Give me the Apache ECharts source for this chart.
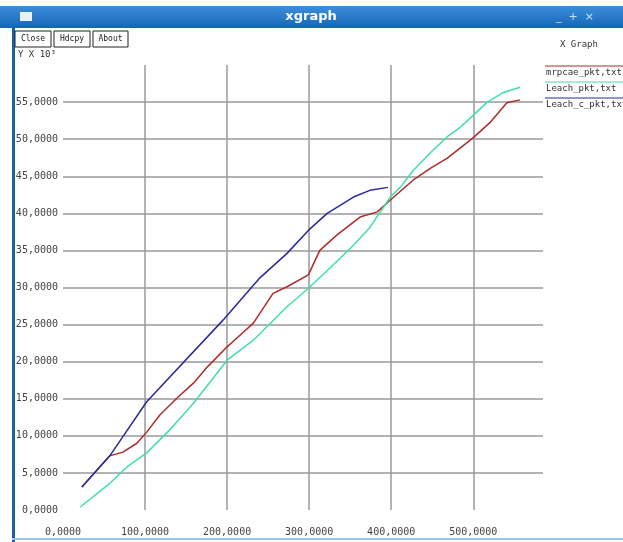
<!DOCTYPE html>
<html><head><meta charset="utf-8">
<script src="https://cdn.jsdelivr.net/npm/echarts@6/dist/echarts.min.js"></script>
<style>html,body{margin:0;padding:0;background:#fff;}#c{width:623px;height:542px;}</style>
</head><body><div id="c"></div>
<script>
// Data (y in units of 10^3)
var seriesNames = ['mrpcae_pkt.txt', 'Leach_pkt.txt', 'Leach_c_pkt.txt'];
var redX  = [23, 57, 73, 90, 102, 118, 139, 159, 176, 200, 212, 232, 256, 273, 299, 313, 334, 362, 383, 399, 427, 448, 468, 499, 521, 541, 557];
var redY  = [3.1, 7.3, 7.8, 9.0, 10.5, 12.8, 15.1, 17.1, 19.3, 22.0, 23.2, 25.2, 29.2, 30.1, 31.7, 35.0, 37.1, 39.5, 40.2, 41.8, 44.5, 46.1, 47.4, 50.1, 52.3, 54.9, 55.3];
var greenX = [21, 57, 78, 102, 130, 159, 200, 232, 273, 299, 326, 354, 374, 399, 411, 427, 448, 468, 484, 496, 517, 537, 557];
var greenY = [0.4, 3.6, 5.8, 7.7, 10.8, 14.4, 20.2, 22.9, 27.4, 29.9, 32.7, 35.7, 38.1, 42.2, 43.5, 45.8, 48.2, 50.3, 51.6, 52.8, 55.0, 56.3, 57.0];
var blueX = [23, 57, 102, 195, 240, 273, 299, 322, 354, 374, 396];
var blueY = [3.1, 7.3, 14.6, 25.6, 31.3, 34.6, 37.7, 40.0, 42.2, 43.1, 43.5];
var xTickLabels = ['0,0000', '100,0000', '200,0000', '300,0000', '400,0000', '500,0000'];
var yTickLabels = ['0,0000', '5,0000', '10,0000', '15,0000', '20,0000', '25,0000', '30,0000', '35,0000', '40,0000', '45,0000', '50,0000', '55,0000'];
var colors = ['#b02a2a', '#3fe0a8', '#2a2a96'];

function pairs(xs, ys) { return xs.map(function (x, i) { return [x, ys[i]]; }); }

var chart = echarts.init(document.getElementById('c'), null, {renderer: 'canvas'});
var mono = 'DejaVu Sans Mono';
var legendGraphics = [];
seriesNames.forEach(function (n, i) {
  legendGraphics.push({type: 'line', shape: {x1: 545, y1: 66 + i * 16, x2: 623, y2: 66 + i * 16}, style: {stroke: colors[i], lineWidth: 1.2}});
  legendGraphics.push({type: 'text', x: 546, y: 68 + i * 16, style: {text: n.replace('.', ','), fill: '#333', font: '9px ' + mono}});
});
function button(x, w, label) {
  return [
    {type: 'rect', shape: {x: x, y: 31, width: w, height: 16}, style: {fill: '#fff', stroke: '#222', lineWidth: 1}},
    {type: 'text', x: x + w / 2, y: 39, style: {text: label, fill: '#222', font: '8px ' + mono, align: 'center', verticalAlign: 'middle'}}
  ];
}
chart.setOption({
  animation: false,
  backgroundColor: '#fff',
  grid: {left: 63, right: 80, top: 65, bottom: 32, containLabel: false},
  xAxis: {
    type: 'value', min: 0, max: 585, interval: 100,
    axisLine: {show: false}, axisTick: {show: false},
    splitLine: {show: true, showMinLine: false, showMaxLine: false, lineStyle: {color: '#9a9a9a', width: 1.5}},
    axisLabel: {margin: 17, color: '#444', fontFamily: mono, fontSize: 10,
      formatter: function (v) { var k = Math.round(v / 100); return (v % 100 === 0 && k < xTickLabels.length) ? xTickLabels[k] : ''; }}
  },
  yAxis: {
    type: 'value', min: 0, max: 60, interval: 5,
    axisLine: {show: false}, axisTick: {show: false},
    splitLine: {show: true, showMinLine: false, showMaxLine: false, lineStyle: {color: '#9a9a9a', width: 1.5}},
    axisLabel: {margin: 5, color: '#444', fontFamily: mono, fontSize: 10,
      formatter: function (v) { var k = Math.round(v / 5); return k < yTickLabels.length ? yTickLabels[k] : ''; }}
  },
  series: [
    {name: seriesNames[0], type: 'line', data: pairs(redX, redY), showSymbol: false, lineStyle: {color: colors[0], width: 1.5}, itemStyle: {color: colors[0]}},
    {name: seriesNames[1], type: 'line', data: pairs(greenX, greenY), showSymbol: false, lineStyle: {color: colors[1], width: 1.5}, itemStyle: {color: colors[1]}},
    {name: seriesNames[2], type: 'line', data: pairs(blueX, blueY), showSymbol: false, lineStyle: {color: colors[2], width: 1.5}, itemStyle: {color: colors[2]}}
  ],
  graphic: [
    {type: 'rect', shape: {x: 0, y: 6, width: 623, height: 22},
      style: {fill: new echarts.graphic.LinearGradient(0, 0, 0, 1, [{offset: 0, color: '#3d8fdc'}, {offset: 1, color: '#1565b5'}])}},
    {type: 'rect', shape: {x: 20, y: 12, width: 12, height: 9}, style: {fill: '#e8f0fa'}},
    {type: 'text', x: 311, y: 17, style: {text: 'xgraph', fill: '#fff', font: 'bold 13px "DejaVu Sans"', align: 'center', verticalAlign: 'middle'}},
    {type: 'text', x: 575, y: 17, style: {text: '_  +  ×', fill: '#cfe3f7', font: '11px "DejaVu Sans"', align: 'center', verticalAlign: 'middle'}},
    {type: 'rect', shape: {x: 12, y: 28, width: 3, height: 514}, style: {fill: '#1d5f9c'}},
    {type: 'rect', shape: {x: 12, y: 538, width: 611, height: 2}, style: {fill: '#9cc6ea'}}
  ].concat(button(15, 36, 'Close'), button(54, 36, 'Hdcpy'), button(93, 35, 'About'), [
    {type: 'text', x: 18, y: 50, style: {text: 'Y X 10³', fill: '#333', font: '9px ' + mono}},
    {type: 'text', x: 560, y: 40, style: {text: 'X Graph', fill: '#333', font: '9px ' + mono}}
  ], legendGraphics)
});
</script></body></html>
